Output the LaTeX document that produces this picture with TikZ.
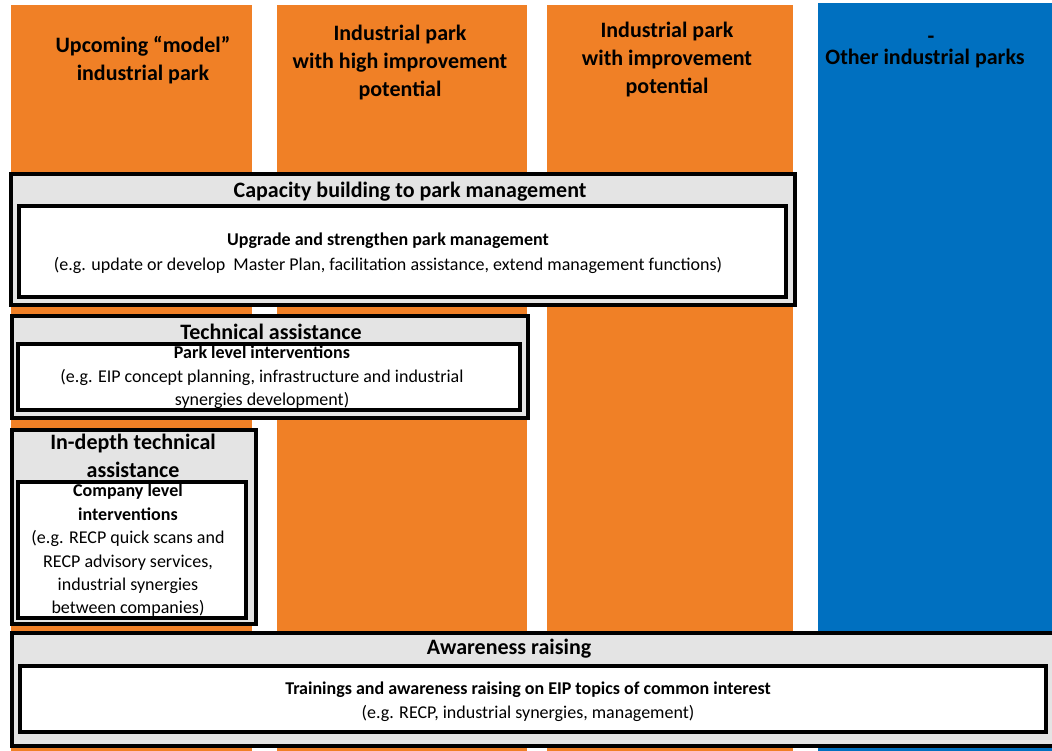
\documentclass[tikz,border=0pt]{standalone}
\usepackage{fontspec}
\setmainfont{Carlito}
\definecolor{parkorange}{HTML}{F08026}
\definecolor{parkblue}{HTML}{0070C0}
\definecolor{boxgray}{HTML}{E4E4E4}
\begin{document}
\begin{tikzpicture}[x=1pt,y=-1pt,
  col/.style={rectangle, draw=none, inner sep=0pt, minimum width=#1},
  header/.style={align=center, inner sep=0pt, font=\fontsize{22}{28}\selectfont\bfseries},
  outerbox/.style={rectangle, draw=black, line width=3.5pt, fill=boxgray, inner sep=0pt},
  innerbox/.style={rectangle, draw=black, line width=3.2pt, fill=white, inner sep=0pt},
  boxtitle/.style={align=center, inner sep=0pt, font=\fontsize{22}{28}\selectfont\bfseries},
  boxtext/.style={align=center, inner sep=0pt, font=\fontsize{18}{24}\selectfont}
]
\useasboundingbox (0,0) rectangle (1052,751);
\clip (0,0) rectangle (1052,751);
% columns
\node[col=241, fill=parkorange, minimum height=746] (c1) at (131.5,378) {};
\node[col=250, fill=parkorange, minimum height=746] (c2) at (402,378) {};
\node[col=246, fill=parkorange, minimum height=746] (c3) at (670,378) {};
\node[col=244, fill=parkblue, minimum height=748] (c4) at (940,377) {};
% headers
\node[header] (h1) at (143,60) {Upcoming “model”\\industrial park};
\node[header] (h2) at (400,62.5) {Industrial park\\with high improvement\\potential};
\node[header] (h3) at (667,60) {Industrial park\\with improvement\\potential};
\node[header] (h4d) at (931,40) {-};
\node[header] (h4) at (925,59) {Other industrial parks};
% capacity building
\node[outerbox, minimum width=784, minimum height=131] (capo) at (403,239.5) {};
\node[boxtitle] (capt) at (410,192) {Capacity building to park management};
\node[innerbox, minimum width=767, minimum height=91] (capi) at (402.5,251.5) {};
\node[boxtext, font=\fontsize{18}{25}\selectfont] (capx) at (388,253.5) {\textbf{Upgrade and strengthen park management}\\(e.g. update or develop\ \ Master Plan, facilitation assistance, extend management functions)};
% technical assistance
\node[outerbox, minimum width=516, minimum height=102] (teco) at (270,367) {};
\node[boxtitle] (tect) at (271,332) {Technical assistance};
\node[innerbox, minimum width=502, minimum height=66] (teci) at (269,377) {};
\node[boxtext, font=\fontsize{18}{23.5}\selectfont] (tecx) at (262,377.5) {\textbf{Park level interventions}\\(e.g. EIP concept planning, infrastructure and industrial\\synergies development)};
% in-depth
\node[outerbox, minimum width=244, minimum height=194] (indo) at (134,527) {};
\node[boxtitle] (indt) at (133,456) {In-depth technical\\assistance};
\node[innerbox, minimum width=228, minimum height=136] (indi) at (132,550) {};
\node[boxtext, font=\fontsize{18}{23.4}\selectfont] (indx) at (128,550.5) {\textbf{Company level}\\\textbf{interventions}\\(e.g. RECP quick scans and\\RECP advisory services,\\industrial synergies\\between companies)};
% awareness
\node[outerbox, minimum width=1048, minimum height=113] (awao) at (536,689.5) {};
\node[boxtitle] (awat) at (509,649) {Awareness raising};
\node[innerbox, minimum width=1026, minimum height=66] (awai) at (533,699) {};
\node[boxtext, font=\fontsize{18}{24}\selectfont] (awax) at (528,702) {\textbf{Trainings and awareness raising on EIP topics of common interest}\\(e.g. RECP, industrial synergies, management)};
\end{tikzpicture}
\end{document}
